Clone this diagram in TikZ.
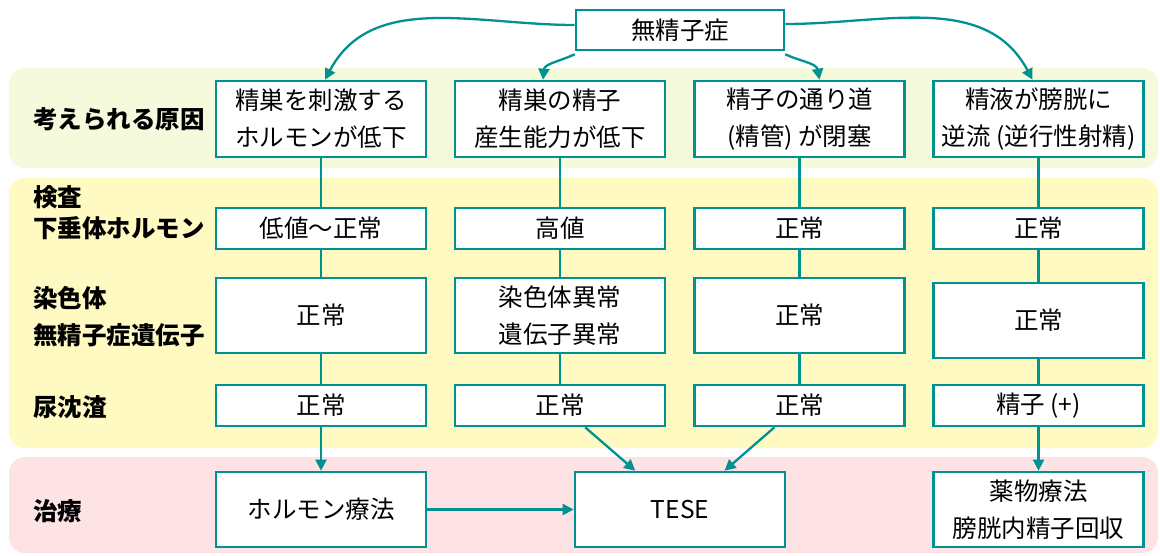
\documentclass[tikz,border=0pt]{standalone}
\usepackage{fontspec}
\setmainfont{Noto Sans CJK JP}
\usetikzlibrary{arrows.meta}
\definecolor{tealc}{RGB}{0,146,146}
\definecolor{bandA}{RGB}{246,250,221}
\definecolor{bandB}{RGB}{255,250,193}
\definecolor{bandC}{RGB}{253,227,227}
\begin{document}
\begin{tikzpicture}[x=1pt,y=-1pt,
 box/.style={draw=tealc, line width=2.6pt, fill=white, minimum width=210pt, align=center, inner sep=0pt, font=\fontsize{24.5}{37}\selectfont},
 lab/.style={anchor=west, align=left, inner sep=0pt, font=\fontsize{24.5}{37}\selectfont\bfseries},
 con/.style={draw=tealc, line width=2.3pt},
 arr/.style={con, -{Triangle[length=11pt,width=11pt]}},
 band/.style={rounded corners=16pt}]
\useasboundingbox (0,0) rectangle (1160,556);
% bands
\fill[band, bandA] (9,68) rectangle (1158,168);
\fill[band, bandB] (9,178) rectangle (1158,448);
\fill[band, bandC] (9,457) rectangle (1158,553);
% labels
\node[lab] (l1) at (33,119) {考えられる原因};
\node[lab] (l2) at (33,197) {検査};
\node[lab] (l3) at (33,228) {下垂体ホルモン};
\node[lab] (l4) at (33,298) {染色体};
\node[lab] (l5) at (33,335) {無精子症遺伝子};
\node[lab] (l6) at (33,407) {尿沈渣};
\node[lab] (l7) at (33,511) {治療};
% top
\node[box, minimum width=208pt, minimum height=40pt] (top) at (680,30) {無精子症};
% row 1
\node[box, minimum height=76pt] (a1) at (321,119) {精巣を刺激する\\ホルモンが低下};
\node[box, minimum height=76pt] (a2) at (560,119) {精巣の精子\\産生能力が低下};
\node[box, minimum height=76pt] (a3) at (799.5,119) {精子の通り道\\(精管) が閉塞};
\node[box, minimum height=76pt] (a4) at (1038.5,119) {精液が膀胱に\\逆流 (逆行性射精)};
% row 2
\node[box, minimum height=41pt] (b1) at (321,228.5) {低値〜正常};
\node[box, minimum height=41pt] (b2) at (560,228.5) {高値};
\node[box, minimum height=41pt] (b3) at (799.5,228.5) {正常};
\node[box, minimum height=41pt] (b4) at (1038.5,228.5) {正常};
% row 3
\node[box, minimum height=75pt] (c1) at (321,315.5) {正常};
\node[box, minimum height=75pt] (c2) at (560,315.5) {染色体異常\\遺伝子異常};
\node[box, minimum height=75pt] (c3) at (799.5,315.5) {正常};
\node[box, minimum height=75pt] (c4) at (1038.5,320.5) {正常};
% row 4
\node[box, minimum height=41pt] (d1) at (321,405.5) {正常};
\node[box, minimum height=41pt] (d2) at (560,405.5) {正常};
\node[box, minimum height=41pt] (d3) at (799.5,405.5) {正常};
\node[box, minimum height=41pt] (d4) at (1038.5,405.5) {精子 (+)};
% treatment
\node[box, minimum height=75pt] (t1) at (321,509.5) {ホルモン療法};
\node[box, minimum height=75pt] (t2) at (680,509.5) {TESE};
\node[box, minimum height=75pt] (t4) at (1038.5,509.5) {薬物療法\\膀胱内精子回収};
% curves from top
\draw[arr] ([yshift=5pt]top.west) to[out=180,in=62] ([xshift=4pt]a1.north);
\draw[arr] ([yshift=-3pt]top.south west) to[out=205,in=85] ([xshift=-17pt]a2.north);
\draw[arr] ([yshift=-3pt]top.south east) to[out=-25,in=100] ([xshift=20pt]a3.north);
\draw[arr] ([yshift=6pt]top.east) to[out=0,in=118] ([xshift=-6pt]a4.north);
% vertical connectors
\foreach \c in {1,2,3,4}{
  \draw[con] (a\c) -- (b\c);
  \draw[con] (b\c) -- (c\c);
  \draw[con] (c\c) -- (d\c);
}
\draw[arr] (d1) -- (t1);
\draw[arr] (d4) -- (t4);
\draw[arr] (d2) -- (t2);
\draw[arr] (d3) -- (t2);
\draw[arr] (t1) -- (t2);
\end{tikzpicture}
\end{document}
